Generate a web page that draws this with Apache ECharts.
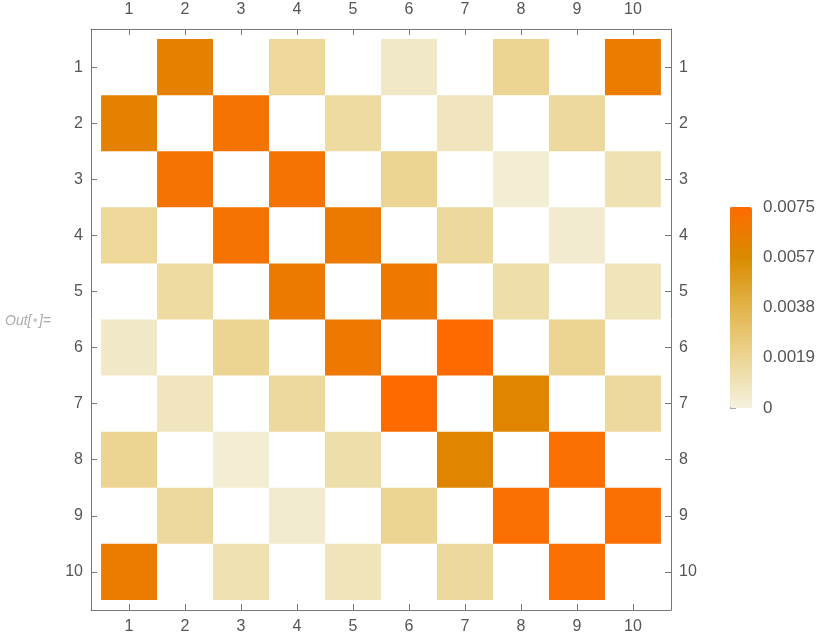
<!DOCTYPE html>
<html>
<head>
<meta charset="utf-8">
<script src="https://cdn.jsdelivr.net/npm/echarts@6/dist/echarts.min.js"></script>
<style>html,body{margin:0;padding:0;background:#fff;}#main{width:830px;height:641px;}</style>
</head>
<body>
<div id="main"></div>
<script>
// Matrix values (row i, column j); 0 = empty (white) cell
const row1  = [0,      0.0062, 0,      0.0017, 0,      0.0006, 0,      0.0019, 0,      0.0065];
const row2  = [0.0062, 0,      0.0070, 0,      0.0015, 0,      0.0008, 0,      0.0016, 0     ];
const row3  = [0,      0.0070, 0,      0.0070, 0,      0.0019, 0,      0.0003, 0,      0.0011];
const row4  = [0.0017, 0,      0.0070, 0,      0.0066, 0,      0.0016, 0,      0.0004, 0     ];
const row5  = [0,      0.0015, 0,      0.0066, 0,      0.0067, 0,      0.0013, 0,      0.0009];
const row6  = [0.0006, 0,      0.0019, 0,      0.0067, 0,      0.0075, 0,      0.0019, 0     ];
const row7  = [0,      0.0008, 0,      0.0016, 0,      0.0075, 0,      0.0060, 0,      0.0016];
const row8  = [0.0019, 0,      0.0003, 0,      0.0013, 0,      0.0060, 0,      0.0073, 0     ];
const row9  = [0,      0.0016, 0,      0.0004, 0,      0.0019, 0,      0.0073, 0,      0.0073];
const row10 = [0.0065, 0,      0.0011, 0,      0.0009, 0,      0.0016, 0,      0.0073, 0     ];
const matrixRows = [row1,row2,row3,row4,row5,row6,row7,row8,row9,row10];

const axisTickValues = [1,2,3,4,5,6,7,8,9,10];
const legendMin = 0;
const legendMax = 0.0075;
const legendTickValues = [0, 0.001875, 0.00375, 0.005625, 0.0075];
const legendTickLabels = ['0','0.0019','0.0038','0.0057','0.0075'];
const legendColors = ['#f4f1df','#ecd593','#e2b44a','#d98b00','#ff6a00'];

const cellData = [];
matrixRows.forEach(function(r, i){
  r.forEach(function(v, j){
    if (v > 0) cellData.push([j+1, i+1, v]);
  });
});

const labelColor = '#555';
const frameColor = '#777';
const fontFamily = '"Liberation Sans", Arial, sans-serif';
const marginByPos = {top:11, bottom:9, left:8, right:8};

function frameAxis(pos, isX){
  return {
    type: 'value', position: pos, gridIndex: 0,
    min: 0.32, max: 10.68,
    inverse: !isX,
    splitLine: {show:false},
    axisLine: {show:true, onZero:false, lineStyle:{color:frameColor, width:1}},
    axisTick: {show:true, inside:true, length:6, lineStyle:{color:frameColor}, customValues: axisTickValues},
    axisLabel: {show:true, color:labelColor, fontSize:16, fontFamily:fontFamily, margin: marginByPos[pos],
      customValues: axisTickValues, formatter: function(v){ return String(v); }}
  };
}

const chart = echarts.init(document.getElementById('main'), null, {renderer:'canvas'});
chart.setOption({
  animation: false,
  backgroundColor: '#fff',
  title: {
    left: 0, top: 309,
    text: '{o|Out[}{d|●}{o|]=}',
    textStyle: {
      fontWeight: 'normal',
      rich: {
        o: {fontStyle:'italic', fontWeight:'normal', color:'#aaa', fontSize:14, fontFamily:fontFamily},
        d: {color:'#ccc', fontWeight:'normal', fontSize:9, padding:[0,1,0,1]}
      }
    }
  },
  grid: [
    {left:91, top:29, width:580, height:581, containLabel:false},
    {left:730, top:207, width:22, height:201, containLabel:false}
  ],
  xAxis: [
    frameAxis('bottom', true),
    frameAxis('top', true),
    {type:'value', gridIndex:1, show:false, min:0, max:1}
  ],
  yAxis: [
    frameAxis('left', false),
    frameAxis('right', false),
    {
      type:'value', gridIndex:1, position:'right', min:legendMin, max:legendMax,
      splitLine:{show:false},
      axisLine:{show:true, lineStyle:{color:'#aaa', width:1}},
      axisTick:{show:true, length:6, lineStyle:{color:'#aaa'}, customValues: legendTickValues},
      axisLabel:{color:labelColor, fontSize:17, fontFamily:fontFamily, margin:11,
        customValues: legendTickValues,
        formatter:function(v){ var k = legendTickValues.indexOf(v); return k >= 0 ? legendTickLabels[k] : ''; }}
    }
  ],
  visualMap: {
    type:'continuous', seriesIndex:0, dimension:2,
    min:legendMin, max:legendMax,
    calculable:false, realtime:false,
    orient:'vertical', left:730, top:207,
    itemWidth:22, itemHeight:201,
    padding:0, text:null, showLabel:false,
    inRange:{color:legendColors}
  },
  series: [{
    type:'custom',
    xAxisIndex:0, yAxisIndex:0,
    encode:{x:0, y:1},
    data: cellData,
    renderItem: function(params, api){
      var x = api.value(0), y = api.value(1);
      var p1 = api.coord([x-0.5, y-0.5]);
      var p2 = api.coord([x+0.5, y+0.5]);
      return {
        type:'rect',
        shape:{x:Math.min(p1[0],p2[0]), y:Math.min(p1[1],p2[1]), width:Math.abs(p2[0]-p1[0]), height:Math.abs(p2[1]-p1[1])},
        style:{fill:api.visual('color')}
      };
    }
  }]
});
</script>
</body>
</html>
